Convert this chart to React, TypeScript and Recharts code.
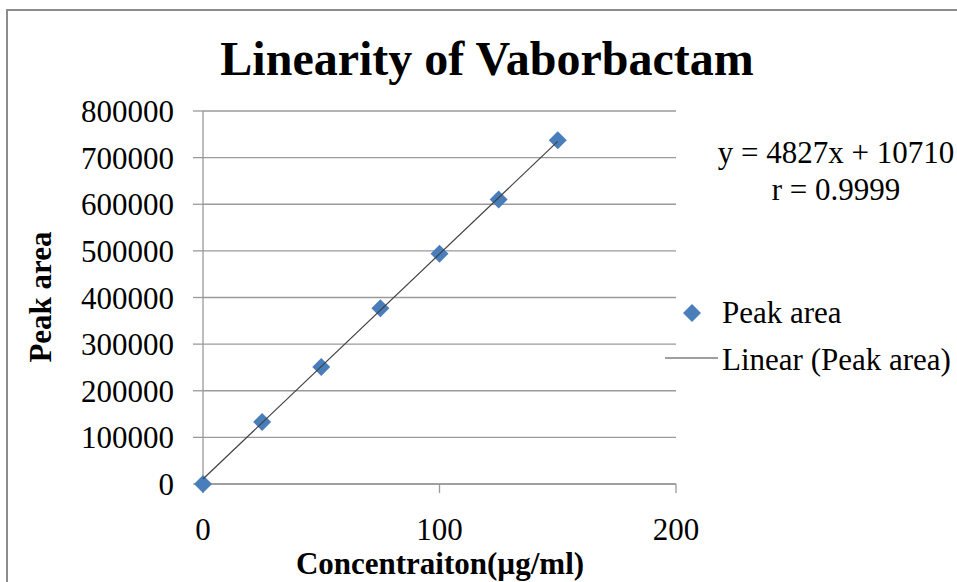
import { ScatterChart, Scatter, XAxis, YAxis, CartesianGrid } from "recharts";

const concentrations = [0, 25, 50, 75, 100, 125, 150];
const peakAreas = [0, 133000, 251000, 377000, 494000, 610000, 737000];
const yTicks = [0, 100000, 200000, 300000, 400000, 500000, 600000, 700000, 800000];
const xTicks = [0, 100, 200];

// trend line from the printed equation y = 4827x + 10710
const slope = 4827;
const intercept = 10710;
const trendX = [0, 150];

const points = concentrations.map((x, i) => ({ x, y: peakAreas[i] }));
const trend = trendX.map((x) => ({ x, y: slope * x + intercept }));

const serif = "'Liberation Serif', 'Times New Roman', serif";
const blue = "#4a7ebb";
const grey = "#9a9a9a";

const Diamond = (props: any) => {
  const { cx, cy } = props;
  const r = 9;
  return (
    <polygon
      points={`${cx},${cy - r} ${cx + r},${cy} ${cx},${cy + r} ${cx - r},${cy}`}
      fill={blue}
    />
  );
};

const Nothing = () => <g />;

export default function App() {
  return (
    <div
      style={{
        position: "absolute",
        left: 0,
        top: 0,
        width: 957,
        height: 582,
        background: "#fff",
        overflow: "hidden",
      }}
    >
      <div
        style={{
          position: "absolute",
          left: 6,
          top: 9,
          width: 1000,
          height: 700,
          border: "2px solid #8c8c8c",
        }}
      />
      <ScatterChart
        width={957}
        height={582}
        margin={{ top: 111, right: 281, bottom: 38, left: 103 }}
        style={{ position: "absolute", left: 0, top: 0 }}
      >
        <CartesianGrid vertical={false} stroke={grey} strokeWidth={1.3} />
        <XAxis
          type="number"
          dataKey="x"
          domain={[0, 200]}
          ticks={xTicks}
          height={60}
          tickSize={9}
          tickMargin={25}
          axisLine={{ stroke: grey, strokeWidth: 1.3 }}
          tickLine={{ stroke: grey, strokeWidth: 1.3 }}
          tick={{ fill: "#000", fontSize: 31, fontFamily: serif }}
        />
        <YAxis
          type="number"
          dataKey="y"
          domain={[0, 800000]}
          ticks={yTicks}
          width={100}
          tickSize={10}
          tickMargin={19}
          axisLine={{ stroke: grey, strokeWidth: 1.3 }}
          tickLine={{ stroke: grey, strokeWidth: 1.3 }}
          tick={{ fill: "#000", fontSize: 31, fontFamily: serif }}
        />
        <Scatter
          name="Peak area"
          data={points}
          shape={Diamond}
          isAnimationActive={false}
        />
        <Scatter
          name="Linear (Peak area)"
          data={trend}
          line={{ stroke: "#404040", strokeWidth: 1.2 }}
          lineType="joint"
          shape={Nothing}
          isAnimationActive={false}
        />
      </ScatterChart>
      <svg
        width={957}
        height={582}
        style={{ position: "absolute", left: 0, top: 0, pointerEvents: "none" }}
        fontFamily={serif}
      >
        <text x={487} y={75} textAnchor="middle" fontSize={48} fontWeight="bold">
          Linearity of Vaborbactam
        </text>
        <text x={440} y={574} textAnchor="middle" fontSize={31} fontWeight="bold">
          Concentraiton(µg/ml)
        </text>
        <text
          x={51}
          y={297}
          textAnchor="middle"
          fontSize={31}
          fontWeight="bold"
          transform="rotate(-90 51 297)"
        >
          Peak area
        </text>
        <text x={836} y={163} textAnchor="middle" fontSize={31}>
          y = 4827x + 10710
        </text>
        <text x={836} y={200} textAnchor="middle" fontSize={31}>
          r = 0.9999
        </text>
        <polygon points="692,304 701,313 692,322 683,313" fill={blue} />
        <text x={722} y={323} fontSize={31}>
          Peak area
        </text>
        <line x1={665} y1={358} x2={718} y2={358} stroke="#404040" strokeWidth={1.2} />
        <text x={722} y={370} fontSize={31}>
          Linear (Peak area)
        </text>
      </svg>
    </div>
  );
}
